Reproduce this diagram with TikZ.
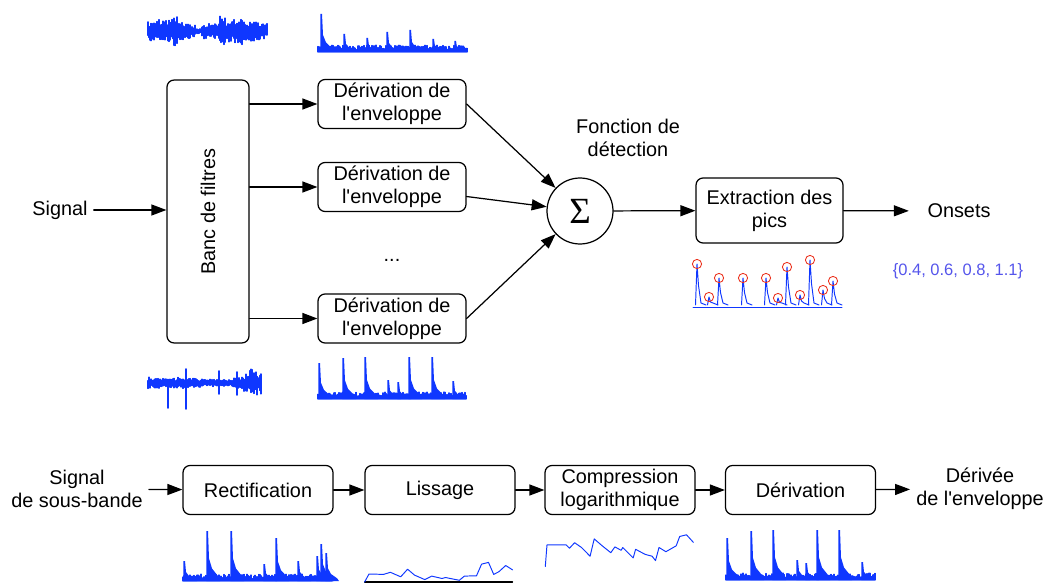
\documentclass[tikz,border=0pt]{standalone}
\usepackage{fontspec}
\setmainfont{Liberation Sans}
\newfontfamily\serif{Liberation Serif}
\usetikzlibrary{arrows.meta,positioning}
\definecolor{bleu}{RGB}{15,55,255}
\definecolor{bleuclair}{RGB}{85,85,235}
\definecolor{rouge}{RGB}{235,50,30}
\newcommand{\apos}{\textquotesingle}
\tikzset{
  bloc/.style={draw, rounded corners=4pt, line width=0.7pt, minimum width=3cm, minimum height=0.98cm, align=center, inner sep=1pt},
  fleche/.style={line width=0.7pt, -{Triangle[length=0.3cm, width=0.22cm]}},
  onde/.style={bleu, line width=0.6pt},
  courbe/.style={bleu, line width=0.55pt, line join=round},
}
% signal audio : x0, centre, liste d'enveloppe (pas de 6)
\newcommand{\audio}[3]{%
  \foreach \e [count=\idx from 0] in {#3}{
    \foreach \j in {0,...,5}{
      \pgfmathsetmacro\ha{\e*(0.35+0.65*rnd)}
      \pgfmathsetmacro\hb{\e*(0.35+0.65*rnd)}
      \draw[onde] ({#1+6*\idx+\j},{#2-\ha}) -- ({#1+6*\idx+\j},{#2+\hb});
    }
  }
}
% enveloppe : x0, base, largeur, pics x/hauteur
\newcommand{\enveloppe}[4]{%
  \foreach \j in {0,...,#3}{
    \pgfmathsetmacro\ha{2+5*rnd}
    \draw[onde] (#1+\j,#2) -- ++(0,-\ha);
  }
  \foreach \s/\h in {#4}{
    \fill[bleu] (#1+\s-0.6,#2) -- ++(0,-\h) -- ++(1.6,0) -- ++(1,{0.55*\h}) -- ++(3,{0.2*\h}) -- ++(6,{0.15*\h}) -- ++(2,{0.1*\h}) -- cycle;
  }
}
\begin{document}
\begin{tikzpicture}[x=0.02cm, y=-0.02cm, font=\fontsize{11.3}{13}\selectfont, line join=round, line cap=round]
\useasboundingbox (0,0) rectangle (1049,588);
\pgfmathsetseed{7}
% chaine principale
\node (sig) at (60,210) {Signal};
\node[bloc, minimum width=1.64cm, minimum height=5.26cm] (banc) at (208,211.5) {};
\node[rotate=90] (bancTxt) at (banc) {Banc de filtres};
\node[bloc, minimum width=2.96cm] (d1) at (392,104) {Dérivation de\\l\apos enveloppe};
\node[bloc, minimum width=2.96cm] (d2) at (392,187) {Dérivation de\\l\apos enveloppe};
\node[bloc, minimum width=2.96cm] (d3) at (392,318.5) {Dérivation de\\l\apos enveloppe};
\node (pts) at (392,260) {...};
\node[draw, circle, line width=0.7pt, minimum size=1.32cm, inner sep=0pt] (somme) at (580,211) {\serif\fontsize{21}{21}\selectfont Σ};
\node[align=center] (fdet) at (628,138) {Fonction de\\détection};
\node[bloc, minimum width=2.94cm, minimum height=1.3cm] (extr) at (769.5,210.5) {Extraction des\\pics};
\node (ons) at (959,211) {Onsets};
\node[text=bleuclair, font=\fontsize{9.4}{11}\selectfont] (vals) at (958,271) {\{0.4, 0.6, 0.8, 1.1\}};

\draw[fleche] (sig) -- (sig -| banc.west);
\draw[fleche] (banc.east |- d1) -- (d1);
\draw[fleche] (banc.east |- d2) -- (d2);
\draw[fleche] (banc.east |- d3) -- (d3);
\draw[fleche] (d1.east) -- (somme);
\draw[fleche] (d2) -- (somme);
\draw[fleche] (d3.east) -- (somme);
\draw[fleche] (somme) -- (extr);
\draw[fleche, shorten >=0.25cm] (extr) -- (ons);

% chaine d'une sous-bande
\node[align=center] (sb) at (77,489) {Signal\\de sous-bande};
\node[bloc] (rect) at (258,490) {Rectification};
\node[bloc] (liss) at (440,490) {Lissage};
\node[bloc] (comp) at (620,490) {Compression\\logarithmique};
\node[bloc] (deriv) at (800.5,490) {Dérivation};
\node[align=center] (de) at (980,489) {Dérivée\\de l\apos enveloppe};
\draw[fleche] (sb) -- (rect);
\draw[fleche] (rect) -- (liss);
\draw[fleche] (liss) -- (comp);
\draw[fleche] (comp) -- (deriv);
\draw[fleche] (deriv) -- (de);

% formes d'onde
\audio{148}{31}{10,13,10,11,15,9,8,7,3,8,8,8,16,12,12,14,10,10,9,8}
\enveloppe{318}{52}{149}{3/38, 26/18, 49/14, 69/20, 92/22, 115/13, 137/11}
\audio{148}{383}{6,7,6,5,5,6,5,5,5,4,4,4,4,4,5,6,9,14,12}
\draw[onde, line width=1pt] (168,380) -- (168,408) (186,369) -- (186,409) (219,371) -- (219,394) (237,372) -- (237,395);
\enveloppe{318}{399}{148}{1/36, 25/41, 47/42, 70/19, 80/17, 91/42, 114/42, 135/18}
\enveloppe{183}{581}{149}{1/20, 24/50, 48/50, 81/17, 93/43, 115/20, 134/25, 138/37, 143/28}
\enveloppe{726}{580}{149}{1/42, 25/49, 47/50, 71/20, 80/17, 91/50, 113/50, 136/18}

% lissage
\draw[line width=0.6pt] (364.6,582) -- (512.6,582);
\draw[courbe] (364.6,582) -- (369,574) -- (383.5,574.4) -- (390.4,572.3) -- (400.7,576.8) -- (407.6,569.2) -- (414.5,575.1) -- (424.8,579.6) -- (431.7,576.1) -- (442,578.5) -- (445.5,577.5) -- (459.3,580.3) -- (464.4,576.1) -- (476.5,575.8) -- (481.6,564.1) -- (488.5,562.4) -- (493.7,574.4) -- (498.9,571.7) -- (505.7,565.5) -- (512.6,569.9);
% compression
\draw[courbe] (545.3,566.5) -- (547,544.8) -- (566,544.8) -- (569.5,548.2) -- (574.6,542.7) -- (581.5,547.5) -- (590.1,556.2) -- (594.2,538.9) -- (602.2,545.8) -- (610.8,552.7) -- (614.9,546.9) -- (621.1,550.3) -- (622.8,547.5) -- (633.2,557.9) -- (635.6,549.3) -- (645.2,554.4) -- (652.1,556.2) -- (655.5,560.6) -- (659,547.5) -- (665.9,551.7) -- (676.2,545.8) -- (679.7,536.5) -- (686.5,534.8) -- (693.4,542.4);

% pics detectes
\draw[courbe] (693,307) -- (842,307);
\foreach \x/\y in {697/264, 709/297, 719/278, 743/278, 766/278, 778/298, 787/267, 800/295, 810/260, 823/290, 833/281}{
  \draw[courbe] (\x-1.5,305) -- (\x,\y) -- (\x+1.5,{(\y+307)/2}) -- (\x+4,303) -- (\x+9,305);
  \draw[rouge, line width=0.5pt] (\x,\y) circle (4.6);
}
\end{tikzpicture}
\end{document}
